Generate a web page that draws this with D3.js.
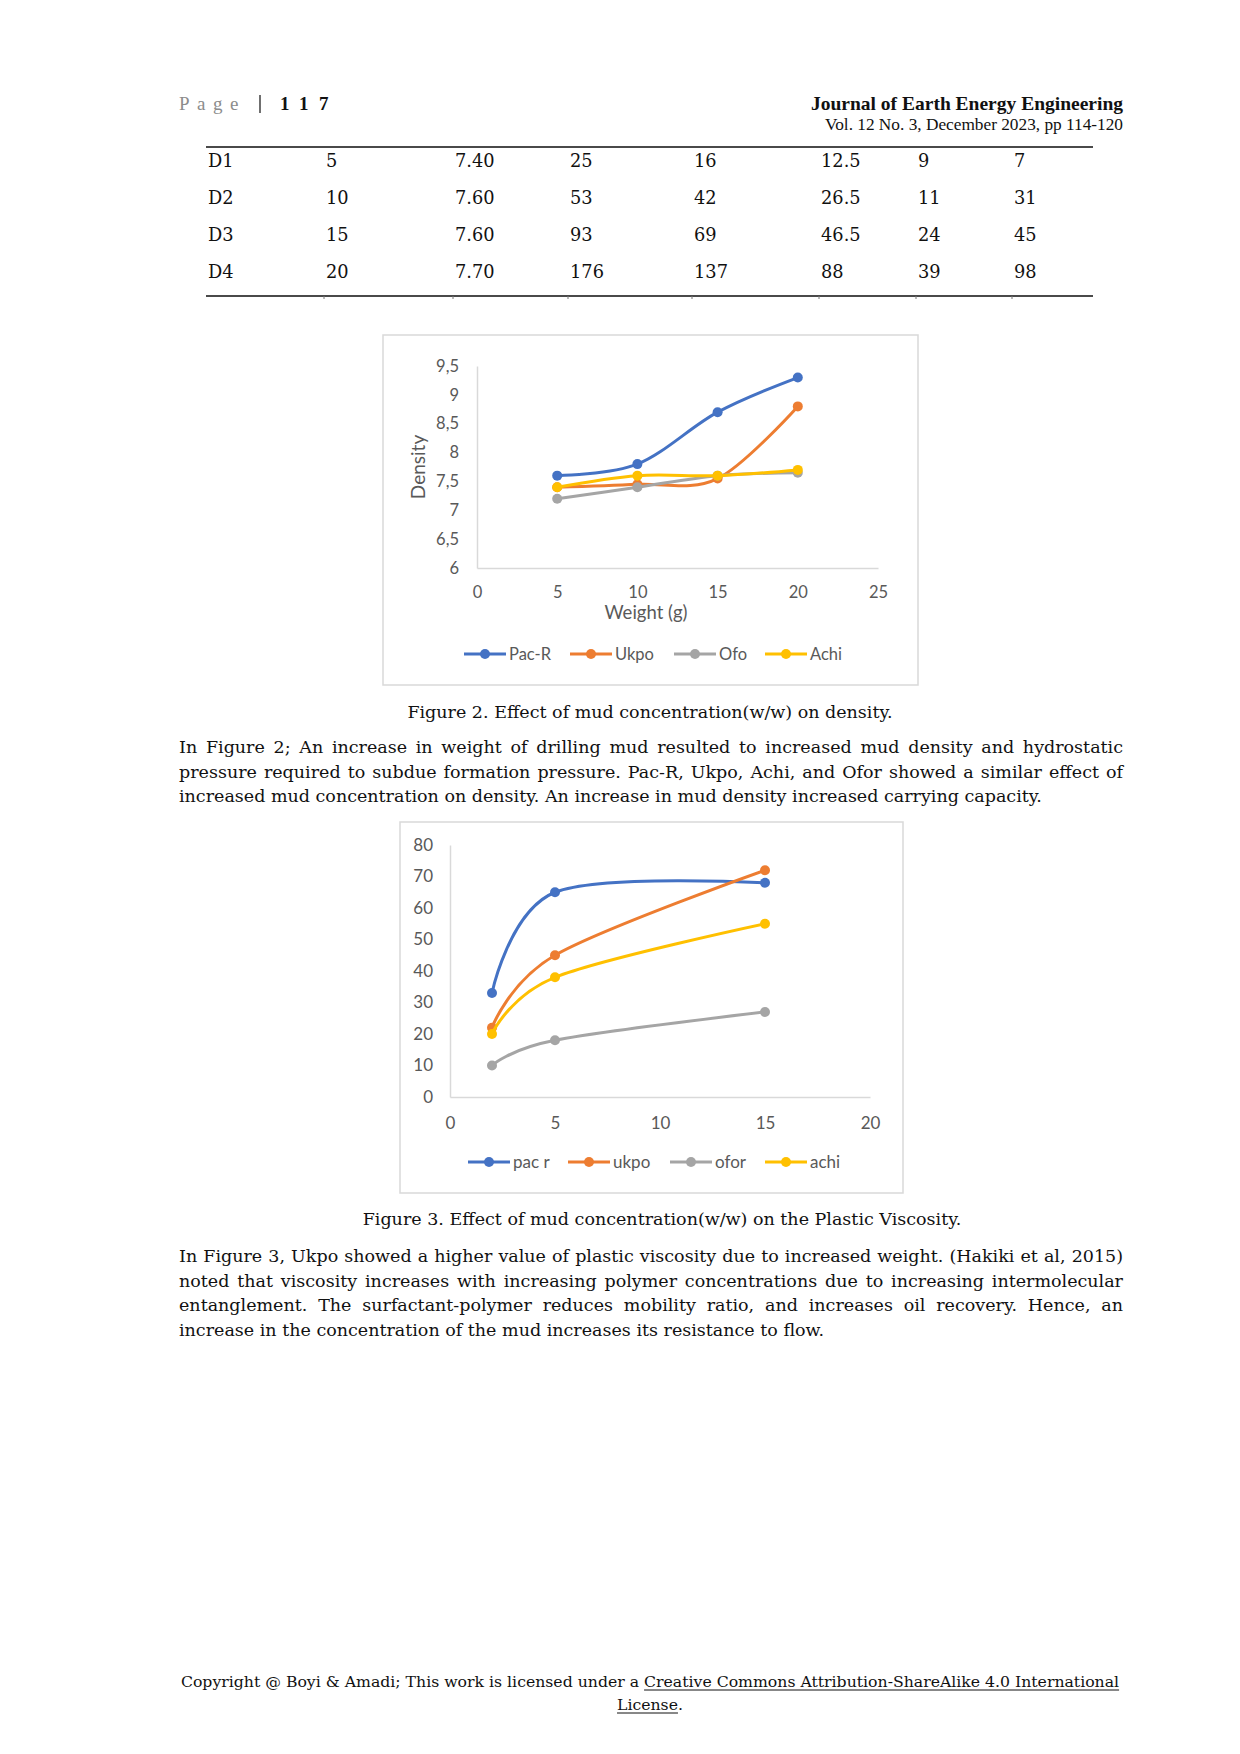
<!DOCTYPE html>
<html>
<head>
<meta charset="utf-8">
<script src="https://cdn.jsdelivr.net/npm/d3@7"></script>
<style>
  body { margin: 0; background: white; }
  svg { display: block; }
</style>
</head>
<body>
<div id="container"></div>
<script>
// colours of the Excel series
let blue = "#4472C4";
let orange = "#ED7D31";
let grey = "#A5A5A5";
let gold = "#FFC000";
let axisGrey = "#D9D9D9";
let labelGrey = "#595959";

let serif = "'DejaVu Serif', 'Liberation Serif', serif";
let headSerif = "'Liberation Serif', 'DejaVu Serif', serif";
let sans = "Lato, 'Open Sans', sans-serif";
let bodySize = 17.5;

// table at the top of the page
let tableRows = [
  ["D1", "5", "7.40", "25", "16", "12.5", "9", "7"],
  ["D2", "10", "7.60", "53", "42", "26.5", "11", "31"],
  ["D3", "15", "7.60", "93", "69", "46.5", "24", "45"],
  ["D4", "20", "7.70", "176", "137", "88", "39", "98"]
];

// figure 2: density against weight
let weights = [5, 10, 15, 20];
let pacRDensity = [7.6, 7.8, 8.7, 9.3];
let ukpoDensity = [7.4, 7.45, 7.55, 8.8];
let ofoDensity = [7.2, 7.4, 7.6, 7.65];
let achiDensity = [7.4, 7.6, 7.6, 7.7];
let densityNames = ["Pac-R", "Ukpo", "Ofo", "Achi"];
let densityXTicks = [0, 5, 10, 15, 20, 25];
let densityYTicks = [6, 6.5, 7, 7.5, 8, 8.5, 9, 9.5];

// figure 3: plastic viscosity against concentration
let concentrations = [2, 5, 15];
let pacRViscosity = [33, 65, 68];
let ukpoViscosity = [22, 45, 72];
let oforViscosity = [10, 18, 27];
let achiViscosity = [20, 38, 55];
let viscosityNames = ["pac r", "ukpo", "ofor", "achi"];
let viscosityXTicks = [0, 5, 10, 15, 20];
let viscosityYTicks = [0, 10, 20, 30, 40, 50, 60, 70, 80];

// text of the page
let caption2 = "Figure 2. Effect of mud concentration(w/w) on density.";
let caption3 = "Figure 3. Effect of mud concentration(w/w) on the Plastic Viscosity.";
let paragraph1 = [
  "In Figure 2; An increase in weight of drilling mud resulted to increased mud density and hydrostatic",
  "pressure required to subdue formation pressure. Pac-R, Ukpo, Achi, and Ofor showed a similar effect of",
  "increased mud concentration on density. An increase in mud density increased carrying capacity."
];
let paragraph2 = [
  "In Figure 3, Ukpo showed a higher value of plastic viscosity due to increased weight. (Hakiki et al, 2015)",
  "noted that viscosity increases with increasing polymer concentrations due to increasing intermolecular",
  "entanglement. The surfactant-polymer reduces mobility ratio, and increases oil recovery. Hence, an",
  "increase in the concentration of the mud increases its resistance to flow."
];

let viz = d3.select("#container")
  .append("svg")
    .attr("width", 1240)
    .attr("height", 1754)
    .style("background-color", "white");

// ---------- header ----------
viz.append("text")
  .text("Page")
  .attr("x", 179)
  .attr("y", 110)
  .attr("font-family", headSerif)
  .attr("font-size", 19)
  .attr("letter-spacing", 7.5)
  .attr("fill", "#8c8c8c");

viz.append("line")
  .attr("x1", 260).attr("x2", 260)
  .attr("y1", 95).attr("y2", 113)
  .attr("stroke", "#222")
  .attr("stroke-width", 1.3);

viz.append("text")
  .text("117")
  .attr("x", 280)
  .attr("y", 110)
  .attr("font-family", headSerif)
  .attr("font-size", 19)
  .attr("font-weight", "bold")
  .attr("letter-spacing", 10.5)
  .attr("fill", "#111");

viz.append("text")
  .text("Journal of Earth Energy Engineering")
  .attr("x", 1123)
  .attr("y", 110)
  .attr("text-anchor", "end")
  .attr("font-family", headSerif)
  .attr("font-size", 19.5)
  .attr("font-weight", "bold")
  .attr("fill", "#111");

viz.append("text")
  .text("Vol. 12 No. 3, December 2023, pp 114-120")
  .attr("x", 1123)
  .attr("y", 130)
  .attr("text-anchor", "end")
  .attr("font-family", headSerif)
  .attr("font-size", 17.3)
  .attr("fill", "#111");

// ---------- table ----------
let colX = [208, 326, 455, 570, 694, 821, 918, 1014];
let rowY = d3.scaleLinear().domain([0, 3]).range([167, 278]);

viz.append("line")
  .attr("x1", 206).attr("x2", 1093)
  .attr("y1", 147).attr("y2", 147)
  .attr("stroke", "#4a4a4a").attr("stroke-width", 2);
viz.append("line")
  .attr("x1", 206).attr("x2", 1093)
  .attr("y1", 296).attr("y2", 296)
  .attr("stroke", "#4a4a4a").attr("stroke-width", 2);

viz.selectAll(".tick-mark")
  .data(colX.slice(1))
  .enter()
  .append("line")
    .attr("x1", d => d - 2).attr("x2", d => d - 2)
    .attr("y1", 296).attr("y2", 299)
    .attr("stroke", "#777").attr("stroke-width", 1);

tableRows.forEach((row, i) => {
  viz.selectAll(".row" + i)
    .data(row)
    .enter()
    .append("text")
      .text(d => d)
      .attr("x", (d, j) => colX[j])
      .attr("y", rowY(i))
      .attr("font-family", serif)
      .attr("font-size", 17.8)
      .attr("fill", "#111");
});

// ---------- justified text helper ----------
function paragraph(lines, top, lead) {
  let left = 179, right = 1123;
  lines.forEach((line, i) => {
    let y = top + i * lead;
    let words = line.split(" ");
    if (i == lines.length - 1) {
      viz.append("text")
        .text(line)
        .attr("x", left).attr("y", y)
        .attr("font-family", serif).attr("font-size", bodySize)
        .attr("fill", "#111");
      return;
    }
    let nodes = words.map(w => viz.append("text")
      .text(w)
      .attr("y", y)
      .attr("font-family", serif).attr("font-size", bodySize)
      .attr("fill", "#111"));
    let widths = nodes.map(n => n.node().getComputedTextLength());
    let gap = (right - left - d3.sum(widths)) / (words.length - 1);
    let x = left;
    nodes.forEach((n, k) => {
      n.attr("x", x);
      x += widths[k] + gap;
    });
  });
}

function caption(str, cx, y) {
  viz.append("text")
    .text(str)
    .attr("x", cx).attr("y", y)
    .attr("text-anchor", "middle")
    .attr("font-family", serif).attr("font-size", bodySize)
    .attr("fill", "#111");
}

// ---------- chart helper ----------
function lineChart(cfg) {
  let g = viz.append("g");

  g.append("rect")
    .attr("x", cfg.box[0]).attr("y", cfg.box[1])
    .attr("width", cfg.box[2]).attr("height", cfg.box[3])
    .attr("fill", "white")
    .attr("stroke", axisGrey)
    .attr("stroke-width", 1.5);

  let x = d3.scaleLinear().domain(cfg.xDomain).range(cfg.xRange);
  let y = d3.scaleLinear().domain(cfg.yDomain).range(cfg.yRange);

  let xAxis = g.append("g")
    .attr("transform", "translate(0," + cfg.yRange[0] + ")")
    .call(d3.axisBottom(x).tickValues(cfg.xTicks).tickSize(0).tickPadding(cfg.xPad).tickFormat(d => d));
  let yAxis = g.append("g")
    .attr("transform", "translate(" + cfg.xRange[0] + ",0)")
    .call(d3.axisLeft(y).tickValues(cfg.yTicks).tickSize(0).tickPadding(cfg.yPad).tickFormat(cfg.yFormat));

  [xAxis, yAxis].forEach(a => {
    a.select(".domain").attr("stroke", axisGrey).attr("stroke-width", 1.5);
    a.selectAll("text")
      .attr("font-family", sans)
      .attr("font-size", cfg.tickSize)
      .attr("fill", labelGrey);
  });

  let line = d3.line()
    .x(d => x(d[0]))
    .y(d => y(d[1]))
    .curve(d3.curveCardinal.tension(0));

  cfg.series.forEach(s => {
    let pts = cfg.xs.map((v, i) => [v, s.values[i]]);
    g.append("path")
      .attr("d", line(pts))
      .attr("fill", "none")
      .attr("stroke", s.color)
      .attr("stroke-width", 3)
      .attr("stroke-linecap", "round");
    g.selectAll(null)
      .data(pts)
      .enter()
      .append("circle")
        .attr("cx", d => x(d[0]))
        .attr("cy", d => y(d[1]))
        .attr("r", 5)
        .attr("fill", s.color);
  });

  // legend
  cfg.series.forEach((s, i) => {
    let lx = cfg.legendX[i];
    g.append("line")
      .attr("x1", lx).attr("x2", lx + 42)
      .attr("y1", cfg.legendY).attr("y2", cfg.legendY)
      .attr("stroke", s.color).attr("stroke-width", 3);
    g.append("circle")
      .attr("cx", lx + 21).attr("cy", cfg.legendY)
      .attr("r", 5).attr("fill", s.color);
    g.append("text")
      .text(s.name)
      .attr("x", lx + 45).attr("y", cfg.legendY)
      .attr("dy", "0.35em")
      .attr("font-family", sans)
      .attr("font-size", cfg.legendSize)
      .attr("fill", labelGrey);
  });

  return g;
}

// ---------- figure 2 ----------
let chart2 = lineChart({
  box: [383, 335, 535, 350],
  xDomain: [0, 25], xRange: [477, 878],
  yDomain: [6, 9.5], yRange: [568, 366],
  xTicks: densityXTicks, yTicks: densityYTicks,
  xPad: 18, yPad: 18,
  yFormat: d => String(d).replace(".", ","),
  tickSize: 16.5,
  xs: weights,
  series: [
    { name: densityNames[0], values: pacRDensity, color: blue },
    { name: densityNames[1], values: ukpoDensity, color: orange },
    { name: densityNames[2], values: ofoDensity, color: grey },
    { name: densityNames[3], values: achiDensity, color: gold }
  ],
  legendX: [464, 570, 674, 765],
  legendY: 654,
  legendSize: 16.5
});

chart2.append("text")
  .text("Weight (g)")
  .attr("x", 646).attr("y", 619)
  .attr("text-anchor", "middle")
  .attr("font-family", sans).attr("font-size", 18.5)
  .attr("fill", labelGrey);

chart2.append("text")
  .text("Density")
  .attr("transform", "translate(425,467) rotate(-90)")
  .attr("text-anchor", "middle")
  .attr("font-family", sans).attr("font-size", 19)
  .attr("fill", labelGrey);

caption(caption2, 650, 718);
paragraph(paragraph1, 753, 24.6);

// ---------- figure 3 ----------
lineChart({
  box: [400, 822, 503, 371],
  xDomain: [0, 20], xRange: [450, 870],
  yDomain: [0, 80], yRange: [1097, 845],
  xTicks: viscosityXTicks, yTicks: viscosityYTicks,
  xPad: 20, yPad: 17,
  yFormat: d => d,
  tickSize: 17,
  xs: concentrations,
  series: [
    { name: viscosityNames[0], values: pacRViscosity, color: blue },
    { name: viscosityNames[1], values: ukpoViscosity, color: orange },
    { name: viscosityNames[2], values: oforViscosity, color: grey },
    { name: viscosityNames[3], values: achiViscosity, color: gold }
  ],
  legendX: [468, 568, 670, 765],
  legendY: 1162,
  legendSize: 17
});

caption(caption3, 662, 1225);
paragraph(paragraph2, 1262, 24.7);

// ---------- footer ----------
let footA = "Copyright @ Boyi & Amadi; This work is licensed under a";
let footB = "Creative Commons Attribution-ShareAlike 4.0 International";
let footFont = 15.7;

let fa = viz.append("text").text(footA)
  .attr("y", 1687).attr("font-family", serif).attr("font-size", footFont).attr("fill", "#111");
let fb = viz.append("text").text(footB)
  .attr("y", 1687).attr("font-family", serif).attr("font-size", footFont).attr("fill", "#111");
let wa = fa.node().getComputedTextLength();
let wb = fb.node().getComputedTextLength();
let space = footFont * 0.32;
let startX = 650 - (wa + space + wb) / 2;
fa.attr("x", startX);
fb.attr("x", startX + wa + space);
viz.append("line")
  .attr("x1", startX + wa + space).attr("x2", startX + wa + space + wb)
  .attr("y1", 1690).attr("y2", 1690)
  .attr("stroke", "#111").attr("stroke-width", 1);

let fc = viz.append("text").text("License")
  .attr("y", 1710).attr("font-family", serif).attr("font-size", footFont).attr("fill", "#111");
let fd = viz.append("text").text(".")
  .attr("y", 1710).attr("font-family", serif).attr("font-size", footFont).attr("fill", "#111");
let wc = fc.node().getComputedTextLength();
let wd = fd.node().getComputedTextLength();
let sx2 = 650 - (wc + wd) / 2;
fc.attr("x", sx2);
fd.attr("x", sx2 + wc);
viz.append("line")
  .attr("x1", sx2).attr("x2", sx2 + wc)
  .attr("y1", 1713).attr("y2", 1713)
  .attr("stroke", "#111").attr("stroke-width", 1);
</script>
</body>
</html>
